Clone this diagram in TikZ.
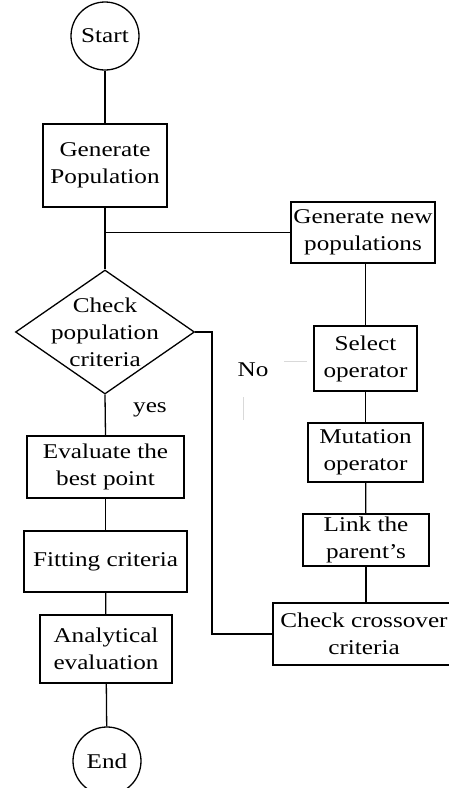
\documentclass[tikz,border=0pt]{standalone}
\usepackage{fontspec}
\setmainfont{Liberation Serif}[FakeStretch=1.2]
\usetikzlibrary{shapes.geometric}
\begin{document}
\begin{tikzpicture}[x=1pt,y=-1pt,
  every node/.style={font=\fontsize{21}{27}\selectfont, align=center, inner sep=0pt},
  conn/.style={line width=1.3pt},
  boxnode/.style={draw, line width=1.3pt, rectangle},
  term/.style={draw, line width=1.3pt, circle, minimum size=68pt},
  faint/.style={line width=0.8pt, draw=black!15}]
\useasboundingbox (0,0) rectangle (448,788);

\node[term] (start) at (105,36) {Start};
\node[boxnode, minimum width=124pt, minimum height=83pt] (genpop) at (105,165.5) {Generate\\Population};
\node[diamond, draw, line width=1.3pt, minimum width=179pt, minimum height=124pt] (chk) at (105,332) {};
\node (chktext) at (105,332) {Check\\population\\criteria};
\node (yes) at (150,410) {yes};
\node[boxnode, minimum width=157pt, minimum height=62pt] (eval) at (105.5,467) {Evaluate the\\best point};
\node[boxnode, minimum width=163pt, minimum height=61pt] (fit) at (105.5,561.5) {Fitting criteria};
\node[boxnode, minimum width=132pt, minimum height=68pt] (anal) at (106,649) {Analytical\\evaluation};
\node[term] (end) at (107,761) {End};

\node[boxnode, minimum width=144pt, minimum height=61pt] (gennew) at (363,232.5) {Generate new\\populations};
\node[boxnode, minimum width=103pt, minimum height=65pt] (select) at (365.5,358.5) {Select\\operator};
\node[boxnode, minimum width=115pt, minimum height=59pt] (mut) at (365.5,452.5) {Mutation\\operator};
\node[boxnode, minimum width=126pt, minimum height=52pt] (link) at (366,540) {Link the\\parent's};
\node[boxnode, minimum width=182pt, minimum height=62pt] (cross) at (364,634) {Check crossover\\criteria};

\node (no) at (253,370) {No};

\coordinate (loopx) at (212,332);
\coordinate (fa1) at (284,361);
\coordinate (fa2) at (307,361);
\coordinate (fb1) at (243,397);
\coordinate (fb2) at (243,420);

\draw[conn] (start) -- (genpop);
\draw[conn] (genpop) -- (chk.north);
\draw[conn] (genpop.south |- gennew.west) -- (gennew.west);
\draw[conn] (select.north |- gennew.south) -- (select.north);
\draw[conn] (select) -- (mut);
\draw[conn] (mut) -- (link);
\draw[conn] (link.south) -- (link.south |- cross.north);
\draw[conn] (chk.east) -| (loopx |- cross.west) -- (cross.west);
\draw[conn] (chk.south) -- (eval.north);
\draw[conn] (eval) -- (fit);
\draw[conn] (fit) -- (anal);
\draw[conn] (anal) -- (end);

\draw[faint] (fa1) -- (fa2);
\draw[faint] (fb1) -- (fb2);
\end{tikzpicture}
\end{document}
